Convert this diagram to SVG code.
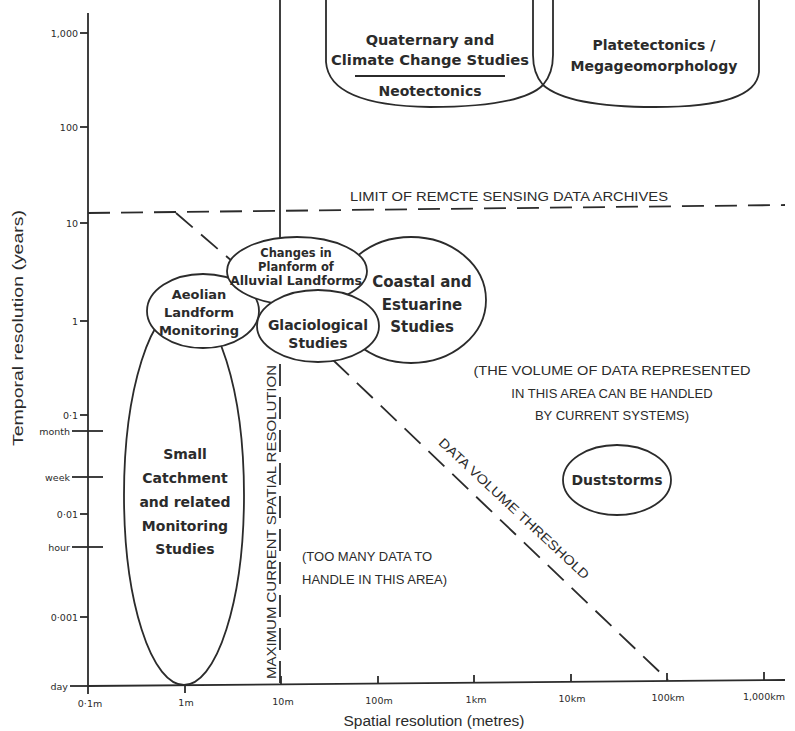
<svg xmlns="http://www.w3.org/2000/svg" width="795" height="731" viewBox="0 0 795 731">
<style>
.ln{stroke:#2b2b2b;stroke-width:1.8;fill:none}
.ds{stroke:#2b2b2b;stroke-width:1.8;fill:none;stroke-dasharray:22 11}
.sh{stroke:#2b2b2b;stroke-width:1.8;fill:#fff}
.b{font-family:"DejaVu Sans","Liberation Sans",sans-serif;font-weight:bold;fill:#2b2b2b;text-anchor:middle}
.r{font-family:"Liberation Sans","DejaVu Sans",sans-serif;fill:#2b2b2b}
.tk{font-family:"DejaVu Sans","Liberation Sans",sans-serif;font-size:9.5px;fill:#2b2b2b}
</style>
<rect width="795" height="731" fill="#fff"/>
<g id="axes">
<line class="ln" x1="88" y1="13" x2="88" y2="686"/>
<line class="ln" x1="88" y1="686" x2="785" y2="680"/>
<g class="ln">
<line x1="80" y1="33" x2="88" y2="33"/>
<line x1="80" y1="127" x2="88" y2="127"/>
<line x1="80" y1="223" x2="88" y2="223"/>
<line x1="80" y1="321" x2="88" y2="321"/>
<line x1="80" y1="415" x2="88" y2="415"/>
<line x1="72" y1="431" x2="103" y2="431"/>
<line x1="72" y1="477" x2="103" y2="477"/>
<line x1="80" y1="514" x2="88" y2="514"/>
<line x1="72" y1="547" x2="103" y2="547"/>
<line x1="80" y1="617" x2="88" y2="617"/>
<line x1="70" y1="686" x2="88" y2="686"/>
<line x1="88" y1="686" x2="88" y2="694"/>
<line x1="185" y1="685" x2="185" y2="693"/>
<line x1="281" y1="684" x2="281" y2="676"/>
<line x1="378" y1="684" x2="378" y2="676"/>
<line x1="474" y1="683" x2="474" y2="675"/>
<line x1="571" y1="682" x2="571" y2="674"/>
<line x1="667" y1="681" x2="667" y2="673"/>
<line x1="764" y1="680" x2="764" y2="672"/>
</g>
<g class="tk" text-anchor="end">
<text x="78" y="37">1,000</text>
<text x="78" y="131">100</text>
<text x="78" y="227">10</text>
<text x="78" y="325">1</text>
<text x="78" y="419">0·1</text>
<text x="70" y="435">month</text>
<text x="70" y="481">week</text>
<text x="78" y="518">0·01</text>
<text x="70" y="551">hour</text>
<text x="78" y="621">0·001</text>
<text x="68" y="690">day</text>
</g>
<g class="tk" text-anchor="middle">
<text x="90" y="707">0·1m</text>
<text x="186" y="706">1m</text>
<text x="283" y="705">10m</text>
<text x="379" y="704">100m</text>
<text x="476" y="703">1km</text>
<text x="572" y="702">10km</text>
<text x="668" y="701">100km</text>
<text x="764" y="700">1,000km</text>
</g>
<text class="r" x="434" y="726" font-size="15.5" text-anchor="middle">Spatial resolution (metres)</text>
<text class="r" transform="translate(23,328) rotate(-90)" font-size="15.5" text-anchor="middle" textLength="236" lengthAdjust="spacingAndGlyphs">Temporal resolution (years)</text>
</g>
<g id="connectors">
<line class="ln" x1="280" y1="0" x2="280" y2="240"/>
<line class="ds" x1="280" y1="364" x2="280" y2="684" stroke-dasharray="24 6"/>
<line class="ds" x1="88" y1="213" x2="785" y2="205"/>
<line class="ds" x1="176" y1="213" x2="233" y2="262" stroke-dasharray="20 10"/>
<line class="ds" x1="333" y1="360" x2="668" y2="680" stroke-dasharray="24 12"/>
<text class="r" x="509" y="201" font-size="13" text-anchor="middle" textLength="318" lengthAdjust="spacingAndGlyphs">LIMIT OF REMCTE SENSING DATA ARCHIVES</text>
<text class="r" transform="translate(276,522) rotate(-90)" font-size="13" text-anchor="middle" textLength="314" lengthAdjust="spacingAndGlyphs">MAXIMUM CURRENT SPATIAL RESOLUTION</text>
<text class="r" transform="translate(511,512) rotate(43)" font-size="13" text-anchor="middle" textLength="200" lengthAdjust="spacingAndGlyphs">DATA VOLUME THRESHOLD</text>
<text class="r" x="612" y="375" font-size="13" text-anchor="middle" textLength="277" lengthAdjust="spacingAndGlyphs">(THE VOLUME OF DATA REPRESENTED</text>
<text class="r" x="612" y="398" font-size="13" text-anchor="middle">IN THIS AREA CAN BE HANDLED</text>
<text class="r" x="612" y="420" font-size="13" text-anchor="middle">BY CURRENT SYSTEMS)</text>
<text class="r" x="302" y="561" font-size="13">(TOO MANY DATA TO</text>
<text class="r" x="302" y="584" font-size="13">HANDLE IN THIS AREA)</text>
</g>
<g id="quaternary">
<path class="ln" d="M326,0 V62 C328,90 360,106 430,107 C490,107 528,100 543,85 C550,77 553,68 553,55 V0"/>
<text class="b" x="430" y="45" font-size="14.5">Quaternary and</text>
<text class="b" x="430" y="65" font-size="14.5" textLength="198" lengthAdjust="spacingAndGlyphs">Climate Change Studies</text>
<line class="ln" x1="355" y1="76" x2="505" y2="76"/>
<text class="b" x="430" y="96" font-size="14">Neotectonics</text>
</g>
<g id="platetectonics">
<path class="ln" d="M533,0 V55 C533,68 536,77 543,85 C560,100 600,107 655,107 C725,107 757,95 759,72 V0"/>
<text class="b" x="654" y="50" font-size="14">Platetectonics /</text>
<text class="b" x="654" y="71" font-size="14" textLength="167" lengthAdjust="spacingAndGlyphs">Megageomorphology</text>
</g>
<g id="smallcatchment">
<ellipse class="sh" cx="184" cy="495" rx="60" ry="190"/>
<text class="b" x="185" y="459" font-size="14">Small</text>
<text class="b" x="185" y="483" font-size="14">Catchment</text>
<text class="b" x="185" y="507" font-size="14">and related</text>
<text class="b" x="185" y="531" font-size="14">Monitoring</text>
<text class="b" x="185" y="554" font-size="14">Studies</text>
</g>
<g id="coastal">
<ellipse class="sh" cx="411" cy="300" rx="75" ry="63"/>
<text class="b" x="422" y="287" font-size="15">Coastal and</text>
<text class="b" x="422" y="310" font-size="15">Estuarine</text>
<text class="b" x="422" y="332" font-size="15">Studies</text>
</g>
<g id="aeolian">
<ellipse class="sh" cx="203" cy="311" rx="56" ry="37"/>
<text class="b" x="199" y="299" font-size="13">Aeolian</text>
<text class="b" x="199" y="317" font-size="13">Landform</text>
<text class="b" x="199" y="335" font-size="13">Monitoring</text>
</g>
<g id="planform">
<ellipse class="sh" cx="297" cy="271" rx="70" ry="34"/>
<text class="b" x="296" y="257" font-size="11.5">Changes in</text>
<text class="b" x="296" y="271" font-size="11.5">Planform of</text>
<text class="b" x="296" y="285" font-size="11.5" textLength="132" lengthAdjust="spacingAndGlyphs">Alluvial Landforms</text>
</g>
<g id="glaciological">
<ellipse class="sh" cx="318" cy="326" rx="61" ry="36"/>
<text class="b" x="318" y="330" font-size="14">Glaciological</text>
<text class="b" x="318" y="348" font-size="14">Studies</text>
</g>
<g id="duststorms">
<ellipse class="sh" cx="617" cy="480" rx="54" ry="35"/>
<text class="b" x="617" y="485" font-size="14">Duststorms</text>
</g>
</svg>
